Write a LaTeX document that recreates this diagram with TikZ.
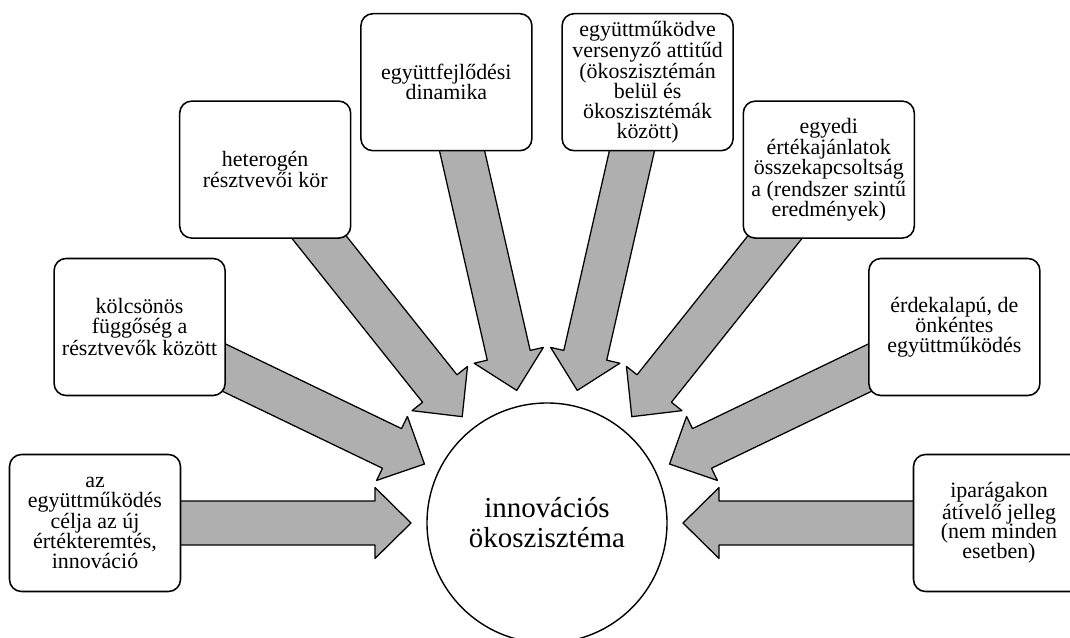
\documentclass[tikz,border=0pt]{standalone}
\usepackage{fontspec}
\setmainfont{Liberation Serif}
\usetikzlibrary{calc, backgrounds}

\definecolor{arrowgray}{RGB}{175,175,175}

\begin{document}
\begin{tikzpicture}[
    box/.style={draw, line width=1.1pt, rounded corners=0.3cm, fill=white, minimum width=4.275cm, minimum height=3.425cm, inner sep=2pt, align=center, font=\fontsize{15.6}{14.2}\selectfont},
    hubnode/.style={circle, draw, line width=1pt, fill=white, minimum size=6cm, align=center, font=\fontsize{20.6}{21.3}\selectfont},
    blockarrow/.style={draw, line width=0.9pt, fill=arrowgray, line join=round,
        to path={let \p1=($(\tikztotarget)-(\tikztostart)$), \n1={atan2(\y1,\x1)} in
            ($(\tikztotarget)+(\n1+180:3.4)$)
            -- ($(\tikztotarget)+(\n1+180:4.3)+(\n1+90:0.8875)$)
            -- ($(\tikztotarget)+(\n1+180:4.3)+(\n1+90:0.55)$)
            -- ($(\tikztostart)+(\n1+90:0.55)$)
            -- ($(\tikztostart)+(\n1-90:0.55)$)
            -- ($(\tikztotarget)+(\n1+180:4.3)+(\n1-90:0.55)$)
            -- ($(\tikztotarget)+(\n1+180:4.3)+(\n1-90:0.8875)$)
            -- cycle}}
]
    \useasboundingbox (0,0) rectangle (26.75,15.925);
    \clip (0,0) rectangle (26.75,15.925);

    % Draw nodes
    \node[hubnode] (hub) at (13.675,2.85) {innovációs\\ökoszisztéma};

    \node[box] (b1) at (2.375,2.85) {az\\együttműködés\\célja az új\\értékteremtés,\\innováció};
    \node[box] (b2) at (3.49,7.75) {kölcsönös\\függőség a\\résztvevők között};
    \node[box] (b3) at (6.63,11.685) {heterogén\\résztvevői kör};
    \node[box] (b4) at (11.16,13.87) {együttfejlődési\\dinamika};
    \node[box] (b5) at (16.19,13.87) {együttműködve\\versenyző attitűd\\(ökoszisztémán\\belül és\\ökoszisztémák\\között)};
    \node[box] (b6) at (20.72,11.685) {egyedi\\értékajánlatok\\összekapcsoltság\\a (rendszer szintű\\eredmények)};
    \node[box] (b7) at (23.86,7.75) {érdekalapú, de\\önkéntes\\együttműködés};
    \node[box] (b8) at (24.975,2.85) {iparágakon\\átívelő jelleg\\(nem minden\\esetben)};

    % Draw connections
    \begin{pgfonlayer}{background}
        \draw[blockarrow] (b1) to (hub);
        \draw[blockarrow] (b2) to (hub);
        \draw[blockarrow] (b3) to (hub);
        \draw[blockarrow] (b4) to (hub);
        \draw[blockarrow] (b5) to (hub);
        \draw[blockarrow] (b6) to (hub);
        \draw[blockarrow] (b7) to (hub);
        \draw[blockarrow] (b8) to (hub);
    \end{pgfonlayer}
\end{tikzpicture}
\end{document}
